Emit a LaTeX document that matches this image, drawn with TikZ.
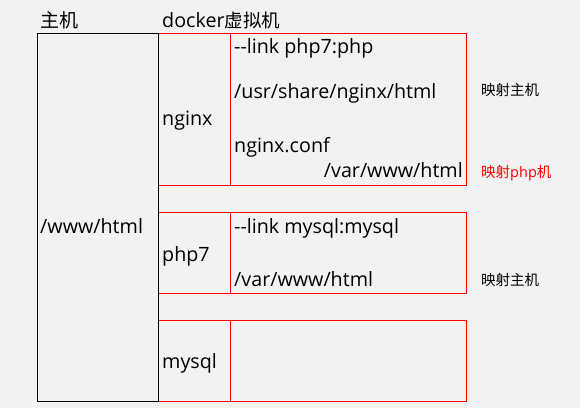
\documentclass[tikz,border=0pt]{standalone}
\usepackage{fontspec}
\setmainfont{Open Sans}
\newfontfamily\cjk{Noto Sans CJK SC}
\definecolor{bggray}{HTML}{F2F2F2}
\tikzset{redbox/.style = {draw=red, line width=1pt}}
\tikzset{hostbox/.style = {draw=black, line width=1pt}}
\tikzset{txt/.style = {anchor=base west, inner sep=0pt,
                       font=\fontsize{19.7}{20}\selectfont}}
\tikzset{note/.style = {anchor=base west, inner sep=0pt,
                        font=\cjk\fontsize{14.5}{15}\selectfont}}

\begin{document}
\begin{tikzpicture}[x=1pt, y=-1pt]
    \fill [bggray] (0, 0) rectangle (580, 408);

    % containers
    \foreach \top/\bot in {33/185, 212/293, 320/401} {
      \draw [redbox] (158, \top) rectangle (466, \bot);
      \draw [redbox] (230, \top) -- (230, \bot);
    }
    \draw [hostbox] (37, 33) rectangle (158, 401);

    % headings
    \node (host) at (40, 27) [txt] {{\cjk\fontsize{19}{19}\selectfont 主机}};
    \node (vm) at (162, 27) [txt] {docker{\cjk\fontsize{18.5}{19}\selectfont 虚拟机}};
    \node (hostdir) at (40, 233) [txt] {/www/html};

    % nginx
    \node (nginx) at (162, 125) [txt] {nginx};
    \node (linkphp) at (234, 53) [txt] {-{}-link php7:php};
    \node (nginxhtml) at (234, 98) [txt] {/usr/share/nginx/html};
    \node (nginxconf) at (234, 152) [txt] {nginx.conf};
    \node (nginxvar) at (463, 177) [txt, anchor=base east] {/var/www/html};
    \node (maphost1) at (481, 95) [note] {映射主机};
    \node (mapphp) at (481, 177) [note, text=red] {映射{\fontspec{Open Sans}php}机};

    % php7
    \node (php) at (162, 261) [txt] {php7};
    \node (linkmysql) at (234, 233) [txt] {-{}-link mysql:mysql};
    \node (phpvar) at (234, 286) [txt] {/var/www/html};
    \node (maphost2) at (481, 285) [note] {映射主机};

    % mysql
    \node (mysql) at (162, 368) [txt] {mysql};
\end{tikzpicture}
\end{document}
